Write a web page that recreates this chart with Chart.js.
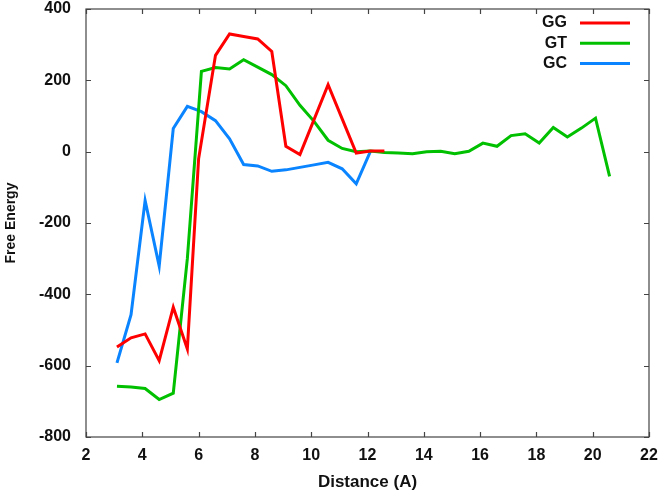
<!DOCTYPE html>
<html>
<head>
<meta charset="utf-8">
<script src="https://cdn.jsdelivr.net/npm/chart.js@4/dist/chart.umd.min.js"></script>
<style>
  html, body { margin: 0; padding: 0; background: #fff; }
  #wrap { width: 661px; height: 500px; }
</style>
</head>
<body>
<div id="wrap"><canvas id="feChart"></canvas></div>
<script>
// Data
const ggX = [3.1, 3.6, 4.1, 4.6, 5.1, 5.6, 6.0, 6.6, 7.1, 7.6, 8.1, 8.6, 9.1, 9.6, 10.1, 10.6, 11.1, 11.6, 12.1, 12.6];
const ggY = [-548, -522, -511, -586, -436, -553, -20, 270, 330, 323, 316, 281, 15, -8, 90, 188, 92, -4, 2, 2];

const gtX = [3.1, 3.6, 4.1, 4.6, 5.1, 5.6, 6.1, 6.6, 7.1, 7.6, 8.1, 8.6, 9.1, 9.6, 10.1, 10.6, 11.1, 11.6,
             12.1, 12.6, 13.1, 13.6, 14.1, 14.6, 15.1, 15.6, 16.1, 16.6, 17.1, 17.6, 18.1, 18.6, 19.1, 19.6, 20.1, 20.6];
const gtY = [-658, -660, -664, -695, -677, -300, 225, 236, 232, 258, 237, 216, 185, 130, 85, 32, 9, 0,
             2, -2, -4, -6, 0, 1, -6, 1, 24, 15, 45, 50, 24, 68, 41, 66, 94, -69];

const gcX = [3.1, 3.6, 4.1, 4.6, 5.1, 5.6, 6.1, 6.6, 7.1, 7.6, 8.1, 8.6, 9.1, 9.6, 10.1, 10.6, 11.1, 11.6, 12.1];
const gcY = [-592, -457, -137, -321, 65, 127, 112, 87, 36, -36, -40, -55, -51, -44, -37, -30, -48, -90, 0];

const seriesNames = ['GG', 'GT', 'GC'];
const seriesColors = ['#ff0000', '#00c000', '#0a84ff'];
const xTicks = [2, 4, 6, 8, 10, 12, 14, 16, 18, 20, 22];
const yTicks = [-800, -600, -400, -200, 0, 200, 400];

function toPoints(xs, ys) {
    return xs.map((x, i) => ({ x: x, y: ys[i] }));
}

// Box, inward ticks (mirrored) and legend with text before the line
const frameAndLegend = {
    id: 'frameAndLegend',
    afterDraw(chart) {
        const ctx = chart.ctx;
        const a = chart.chartArea;
        const xs = chart.scales.x, ys = chart.scales.y;
        ctx.save();
        ctx.strokeStyle = '#444';
        ctx.lineWidth = 1.2;
        ctx.strokeRect(a.left, a.top, a.right - a.left, a.bottom - a.top);
        ctx.beginPath();
        xTicks.forEach(v => {
            const px = Math.round(xs.getPixelForValue(v)) + 0.5;
            ctx.moveTo(px, a.bottom); ctx.lineTo(px, a.bottom - 5);
            ctx.moveTo(px, a.top); ctx.lineTo(px, a.top + 5);
        });
        yTicks.forEach(v => {
            const py = Math.round(ys.getPixelForValue(v)) + 0.5;
            ctx.moveTo(a.left, py); ctx.lineTo(a.left + 5, py);
            ctx.moveTo(a.right, py); ctx.lineTo(a.right - 5, py);
        });
        ctx.stroke();

        // legend
        ctx.font = "bold 16px 'Liberation Sans', Arial, sans-serif";
        ctx.textAlign = 'right';
        ctx.textBaseline = 'middle';
        chart.data.datasets.forEach((ds, i) => {
            const y = 23 + i * 20.3;
            ctx.fillStyle = '#111';
            ctx.fillText(ds.label, 567, y);
            ctx.strokeStyle = ds.borderColor;
            ctx.lineWidth = 3;
            ctx.beginPath();
            ctx.moveTo(580, y); ctx.lineTo(630, y);
            ctx.stroke();
        });
        ctx.restore();
    }
};

document.addEventListener("DOMContentLoaded", function () {
    Chart.defaults.font.family = "'Liberation Sans', Arial, sans-serif";
    Chart.defaults.color = '#111';

    const lineDs = (i, xs, ys) => ({
        label: seriesNames[i],
        data: toPoints(xs, ys),
        borderColor: seriesColors[i],
        backgroundColor: seriesColors[i],
        borderWidth: 3,
        pointRadius: 0,
        showLine: true,
        fill: false,
        tension: 0
    });

    new Chart(document.getElementById('feChart').getContext('2d'), {
        type: 'scatter',
        data: {
            datasets: [
                lineDs(0, ggX, ggY),
                lineDs(1, gtX, gtY),
                lineDs(2, gcX, gcY)
            ]
        },
        options: {
            responsive: true,
            maintainAspectRatio: false,
            animation: false,
            layout: { padding: { left: 0, right: 12, top: 9, bottom: 0 } },
            plugins: {
                legend: { display: false },
                tooltip: { enabled: false }
            },
            scales: {
                x: {
                    type: 'linear',
                    min: 2,
                    max: 22,
                    afterBuildTicks: s => { s.ticks = xTicks.map(v => ({ value: v })); },
                    afterFit: s => { s.height = 63; s.paddingLeft = 0; s.paddingRight = 0; },
                    grid: { display: false, drawTicks: false },
                    border: { display: false },
                    ticks: { padding: 9, font: { size: 16, weight: 'bold' }, color: '#111', maxRotation: 0 },
                    title: {
                        display: true,
                        text: 'Distance (A)',
                        font: { size: 17, weight: 'bold' },
                        color: '#111',
                        padding: { top: 0, bottom: 7 }
                    }
                },
                y: {
                    type: 'linear',
                    min: -800,
                    max: 400,
                    afterBuildTicks: s => { s.ticks = yTicks.map(v => ({ value: v })); },
                    afterFit: s => { s.width = 86; s.paddingTop = 0; s.paddingBottom = 0; },
                    grid: { display: false, drawTicks: false },
                    border: { display: false },
                    ticks: { padding: 15, font: { size: 16, weight: 'bold' }, color: '#111' },
                    title: {
                        display: true,
                        text: 'Free Energy',
                        font: { size: 14, weight: 'bold' },
                        color: '#111',
                        padding: { top: 3, bottom: 0 }
                    }
                }
            }
        },
        plugins: [frameAndLegend]
    });
});
</script>
</body>
</html>
